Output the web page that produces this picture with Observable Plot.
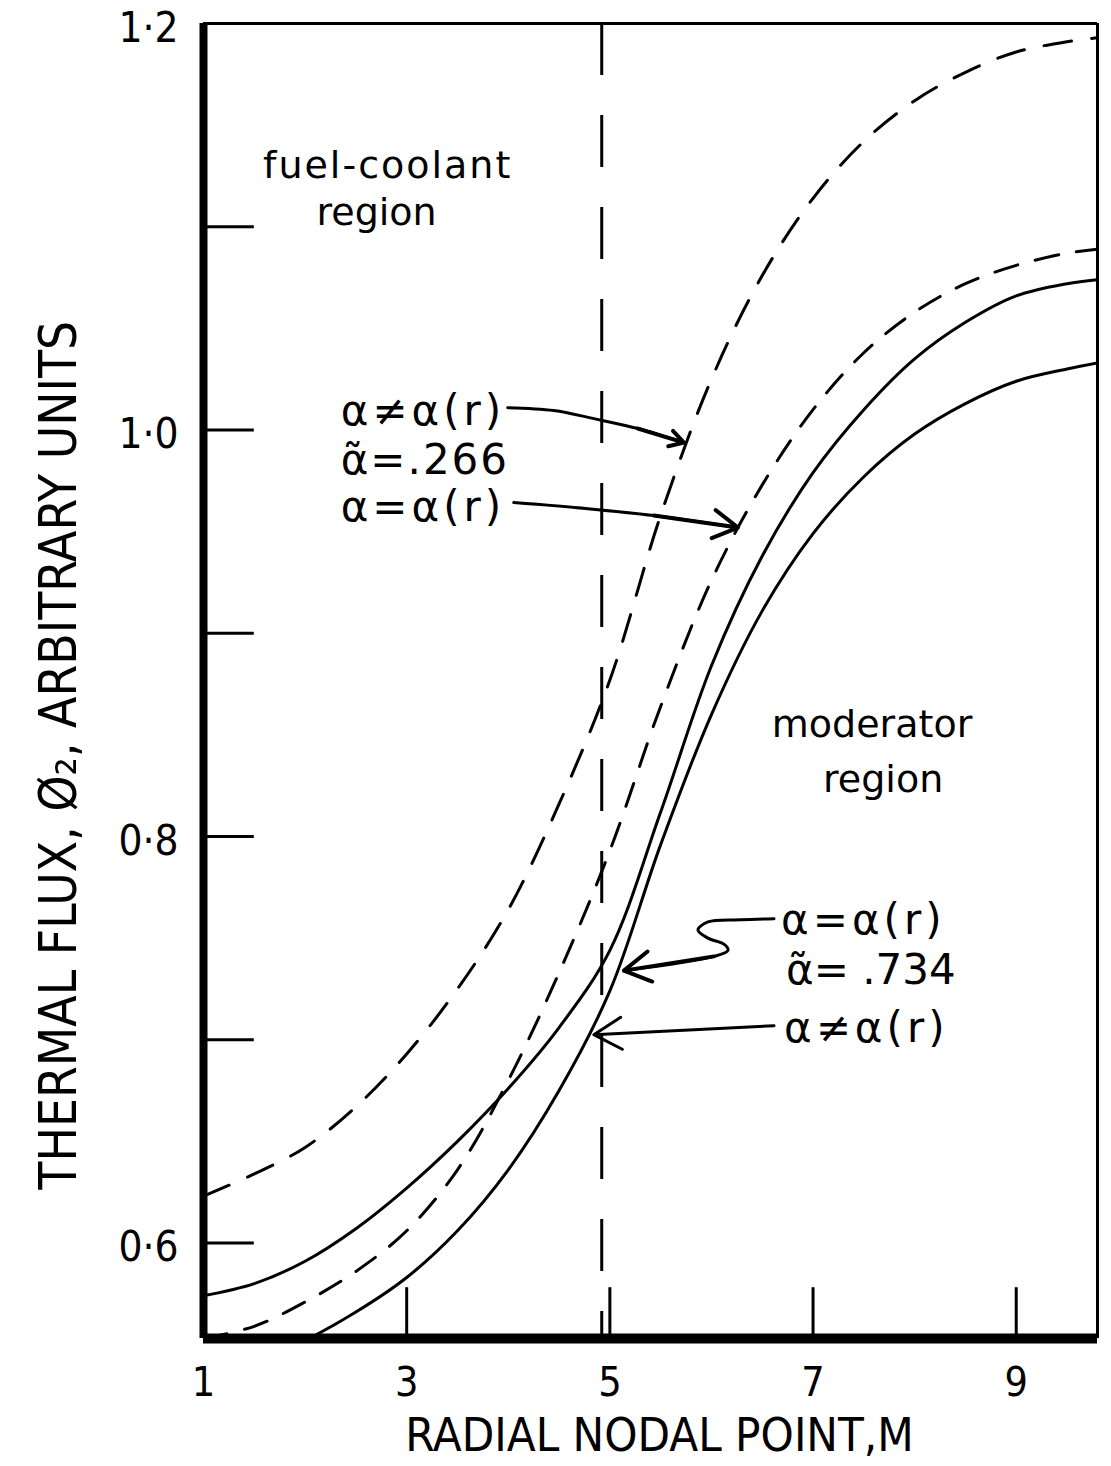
<!DOCTYPE html>
<html>
<head>
<meta charset="utf-8">
<script src="https://cdn.jsdelivr.net/npm/d3@7"></script>
<script src="https://cdn.jsdelivr.net/npm/@observablehq/plot@0.6"></script>
<style>
  body { margin: 0; background: #fff; }
  #chart svg { display: block; }
</style>
</head>
<body>
<div id="chart"></div>
<script>
// ---- data ----
const nodes = [1, 1.5, 2, 2.5, 3, 3.5, 4, 4.5, 5, 5.5, 6, 6.5, 7, 7.5, 8, 8.5, 9, 9.5, 9.8];
// dashed, alpha != alpha(r), mean alpha = .266
const fluxDashedConst = [0.623, 0.634, 0.647, 0.667, 0.693, 0.725, 0.764, 0.816, 0.877, 0.958, 1.025, 1.076, 1.114, 1.142, 1.162, 1.176, 1.186, 1.191, 1.193];
// dashed, alpha = alpha(r), mean alpha = .266
const fluxDashedVar = [0.553, 0.559, 0.571, 0.586, 0.606, 0.636, 0.680, 0.733, 0.793, 0.864, 0.926, 0.973, 1.010, 1.038, 1.058, 1.072, 1.081, 1.087, 1.089];
// solid, alpha = alpha(r), mean alpha = .734
const fluxSolidVar = [0.574, 0.580, 0.591, 0.607, 0.627, 0.650, 0.676, 0.706, 0.744, 0.812, 0.884, 0.938, 0.979, 1.010, 1.035, 1.053, 1.066, 1.072, 1.074];
// solid, alpha != alpha(r), mean alpha = .734
const fluxSolidConst = [0.532, 0.541, 0.552, 0.566, 0.583, 0.606, 0.636, 0.675, 0.724, 0.796, 0.860, 0.911, 0.949, 0.977, 0.998, 1.013, 1.024, 1.030, 1.033];

const xDomain = [1, 9.8];
const yDomain = [0.553, 1.2];
const xTickLabelValues = [1, 3, 5, 7, 9];
const xTickLabels = ["1", "3", "5", "7", "9"];
const xTickMarks = [3, 5, 7, 9];
const yTickMarks = [0.6, 0.7, 0.8, 0.9, 1.0, 1.1];
const yTickLabelValues = [0.6, 0.8, 1.0, 1.2];
const yTickLabels = ["0·6", "0·8", "1·0", "1·2"];
const regionBoundary = 4.92;

const xTitle = "RADIAL NODAL POINT,M";
const yTitle = "THERMAL FLUX, Ø₂, ARBITRARY UNITS";

// annotation texts and anchors (data coordinates)
const regionTexts = ["fuel-coolant", "region", "moderator", "region"];
const regionX = [2.813, 2.704, 7.581, 7.690];
const regionY = [1.130, 1.107, 0.855, 0.828];

const alphaTexts = ["α≠α(r)", "α\u0303=.266", "α=α(r)", "α=α(r)", "α\u0303= .734", "α≠α(r)"];
const alphaSpacing = [4, 2, 4, 4, 0, 4];
const alphaX = [2.35, 2.35, 2.35, 6.685, 6.734, 6.714];
const alphaY = [1.009, 0.985, 0.962, 0.7586, 0.734, 0.7054];

// leader lines
const leader1X = [3.995, 4.448, 4.842, 5.276, 5.729];
const leader1Y = [1.011, 1.0096, 1.0056, 1.0007, 0.9938];
const leader2X = [4.054, 4.783, 5.433, 6.261];
const leader2Y = [0.9643, 0.9613, 0.9579, 0.9520];
const leader3X = [6.616, 6.291, 5.966, 5.867, 5.966, 6.123, 6.163, 6.025, 5.138];
const leader3Y = [0.7595, 0.759, 0.758, 0.754, 0.750, 0.747, 0.744, 0.741, 0.734];
const leader4X = [6.616, 4.842];
const leader4Y = [0.7069, 0.7025];

// ---- build ----
const rows = (vals) => nodes.map((x, i) => ({x, y: vals[i]}));
const pts = (xs, ys) => xs.map((x, i) => ({x, y: ys[i]}));
const head = (xs, ys) => {
  const n = xs.length;
  return [{x1: xs[n - 2], y1: ys[n - 2], x2: xs[n - 1], y2: ys[n - 1]}];
};

const font = "'DejaVu Sans Condensed', 'DejaVu Sans', sans-serif";
const annFont = "'DejaVu Sans', sans-serif";

const plot = Plot.plot({
  width: 1111,
  height: 1466,
  marginLeft: 203,
  marginRight: 14,
  marginTop: 23,
  marginBottom: 128,
  x: {domain: xDomain, axis: null},
  y: {domain: yDomain, axis: null},
  style: {background: "white", color: "black", fontFamily: font},
  marks: [
    // curves
    Plot.line(rows(fluxDashedConst), {x: "x", y: "y", stroke: "black", strokeWidth: 3, strokeDasharray: "28,20", curve: "catmull-rom", clip: true}),
    Plot.line(rows(fluxDashedVar), {x: "x", y: "y", stroke: "black", strokeWidth: 3, strokeDasharray: "24,18", curve: "catmull-rom", clip: true}),
    Plot.line(rows(fluxSolidVar), {x: "x", y: "y", stroke: "black", strokeWidth: 3, curve: "catmull-rom", clip: true}),
    Plot.line(rows(fluxSolidConst), {x: "x", y: "y", stroke: "black", strokeWidth: 3, curve: "catmull-rom", clip: true}),

    // region boundary
    Plot.ruleX([regionBoundary], {stroke: "black", strokeWidth: 3, strokeDasharray: "52,40"}),

    // inward ticks
    Plot.ruleY(yTickMarks, {x1: xDomain[0], x2: xDomain[0] + 0.5, stroke: "black", strokeWidth: 3}),
    Plot.ruleX(xTickMarks, {y1: yDomain[0], y2: yDomain[0] + 0.025, stroke: "black", strokeWidth: 3}),

    // frame
    Plot.ruleX([xDomain[0]], {stroke: "black", strokeWidth: 8}),
    Plot.ruleY([yDomain[0]], {stroke: "black", strokeWidth: 10}),
    Plot.ruleY([yDomain[1]], {stroke: "black", strokeWidth: 3}),
    Plot.ruleX([xDomain[1]], {stroke: "black", strokeWidth: 3}),

    // tick labels
    Plot.text(yTickLabelValues, {x: xDomain[0], y: d => d, text: (d, i) => yTickLabels[i], dx: -25, dy: 5, textAnchor: "end", fontSize: 42, fill: "black"}),
    Plot.text(xTickLabelValues, {x: d => d, y: yDomain[0], text: (d, i) => xTickLabels[i], dy: 44, fontSize: 41, fill: "black"}),

    // axis titles
    Plot.text([xTitle], {frameAnchor: "bottom", text: d => d, dx: 9, dy: 112, fontSize: 47, fill: "black"}),
    Plot.text([yTitle], {x: -0.419, y: 0.84, text: d => d, rotate: -90, fontSize: 51, fill: "black"}),

    // region labels
    Plot.text(regionTexts, {x: (d, i) => regionX[i], y: (d, i) => regionY[i], text: d => d, fontSize: 38, fontFamily: annFont, fill: "black"}),

    // alpha labels
    Plot.text(alphaTexts, {x: (d, i) => alphaX[i], y: (d, i) => alphaY[i], text: d => d, textAnchor: "start", fontSize: 42, fontFamily: annFont, fill: "black"}),

    // leaders
    Plot.line(pts(leader1X, leader1Y), {x: "x", y: "y", stroke: "black", strokeWidth: 3, curve: "catmull-rom"}),
    Plot.arrow(head(leader1X, leader1Y), {x1: "x1", y1: "y1", x2: "x2", y2: "y2", stroke: "black", strokeWidth: 4, headLength: 16}),
    Plot.line(pts(leader2X, leader2Y), {x: "x", y: "y", stroke: "black", strokeWidth: 3, curve: "catmull-rom"}),
    Plot.arrow(head(leader2X, leader2Y), {x1: "x1", y1: "y1", x2: "x2", y2: "y2", stroke: "black", strokeWidth: 4, headLength: 16}),
    Plot.line(pts(leader3X, leader3Y), {x: "x", y: "y", stroke: "black", strokeWidth: 3, curve: "catmull-rom"}),
    Plot.arrow(head(leader3X, leader3Y), {x1: "x1", y1: "y1", x2: "x2", y2: "y2", stroke: "black", strokeWidth: 4, headLength: 16}),
    Plot.arrow(head(leader4X, leader4Y), {x1: "x1", y1: "y1", x2: "x2", y2: "y2", stroke: "black", strokeWidth: 3, headLength: 16})
  ]
});

// letter spacing for the hand-lettered annotations
d3.select(plot).selectAll("text").each(function () {
  const t = this.textContent;
  const k = alphaTexts.indexOf(t);
  if (k >= 0 && alphaSpacing[k] > 0) this.setAttribute("letter-spacing", String(alphaSpacing[k]));
  if (t === "fuel-coolant") this.setAttribute("letter-spacing", "2");
});

document.getElementById("chart").appendChild(plot);
</script>
</body>
</html>
